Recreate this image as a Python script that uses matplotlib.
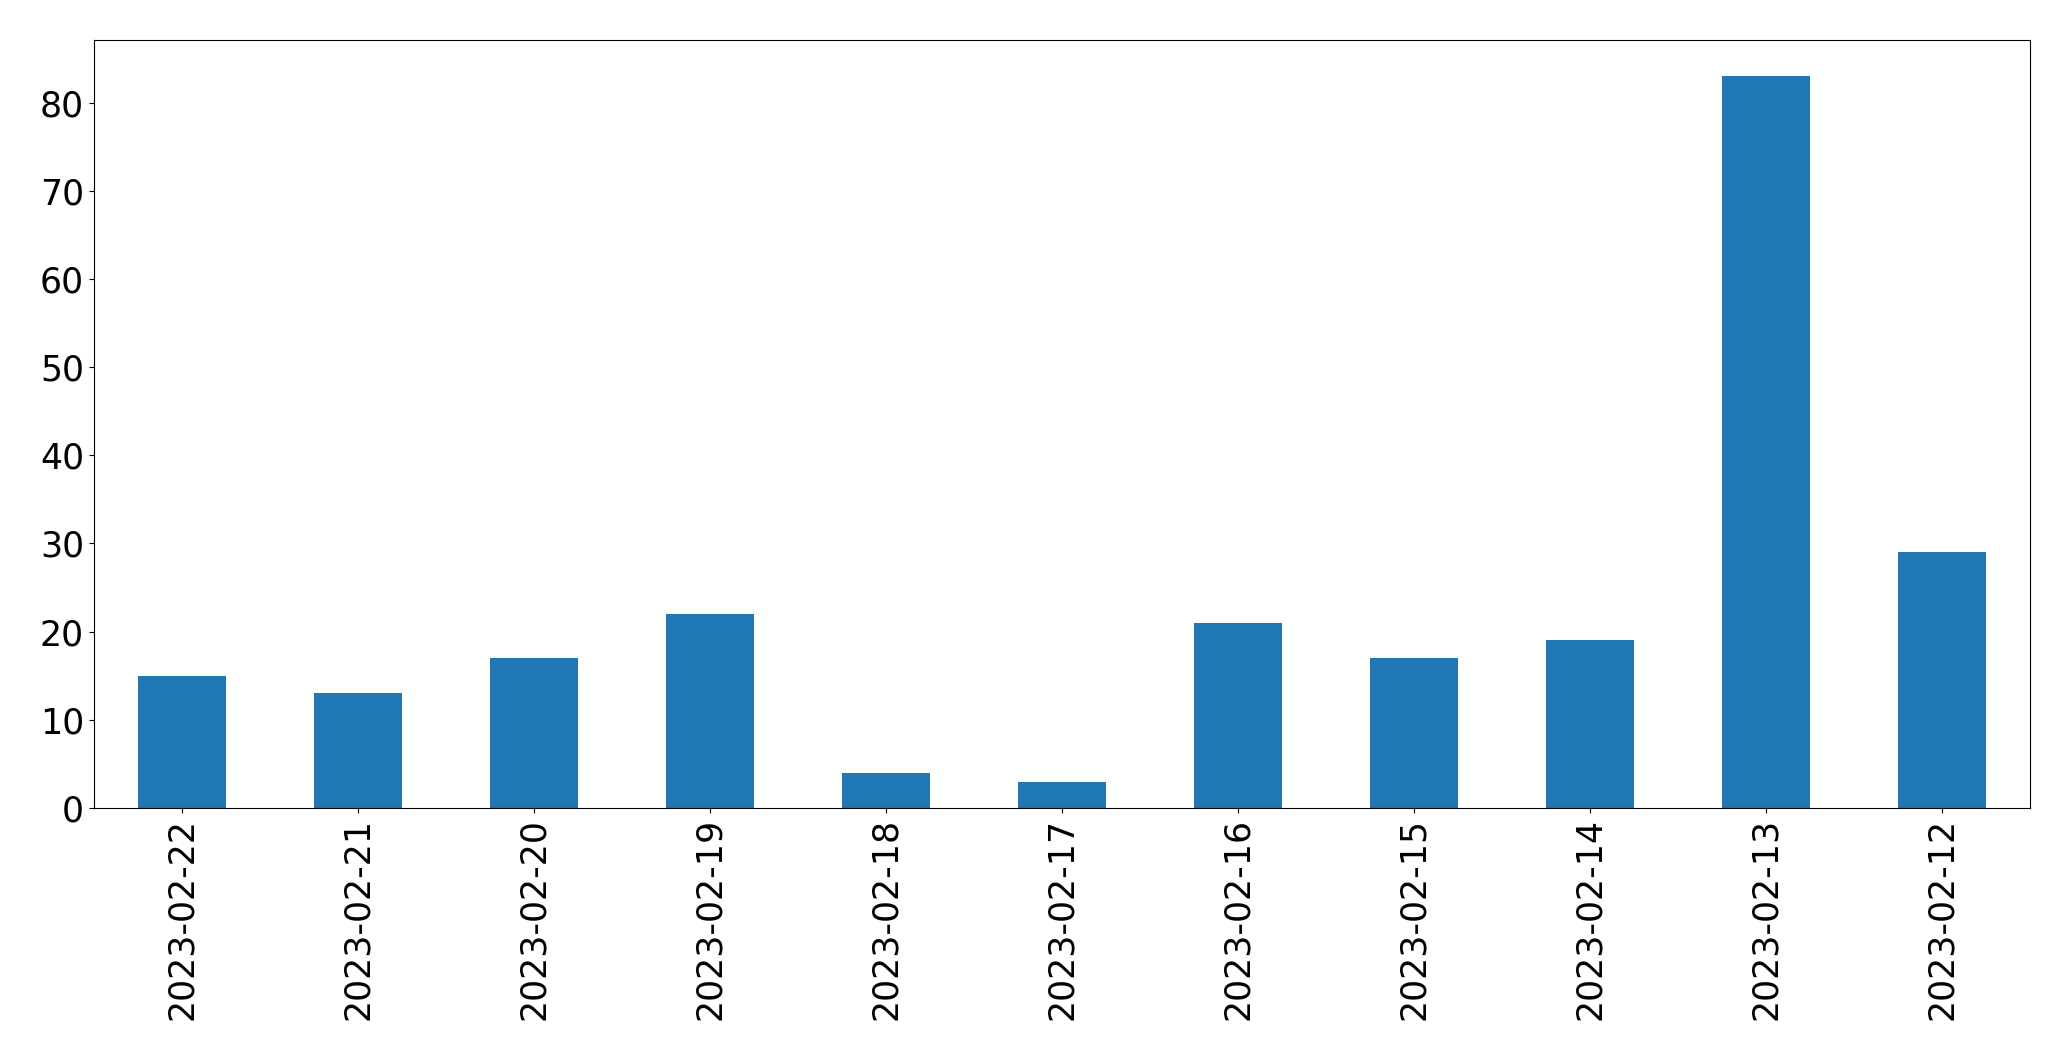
import matplotlib
matplotlib.use("Agg")
import pandas as pd
from matplotlib import pyplot as plt

dates = ['2023-02-22', '2023-02-21', '2023-02-20', '2023-02-19', '2023-02-18', '2023-02-17',
         '2023-02-16', '2023-02-15', '2023-02-14', '2023-02-13', '2023-02-12']
counts = [15, 13, 17, 22, 4, 3, 21, 17, 19, 83, 29]

s = pd.Series(counts, index=dates)

fig, ax = plt.subplots(figsize=(20.71, 10.61), dpi=100)
s.plot(kind='bar', ax=ax, color='#1f77b4')
ax.tick_params(axis='both', labelsize=25)
plt.subplots_adjust(left=0.0453, right=0.980, top=0.9627, bottom=0.2385)
plt.savefig('out.png', dpi=100)
